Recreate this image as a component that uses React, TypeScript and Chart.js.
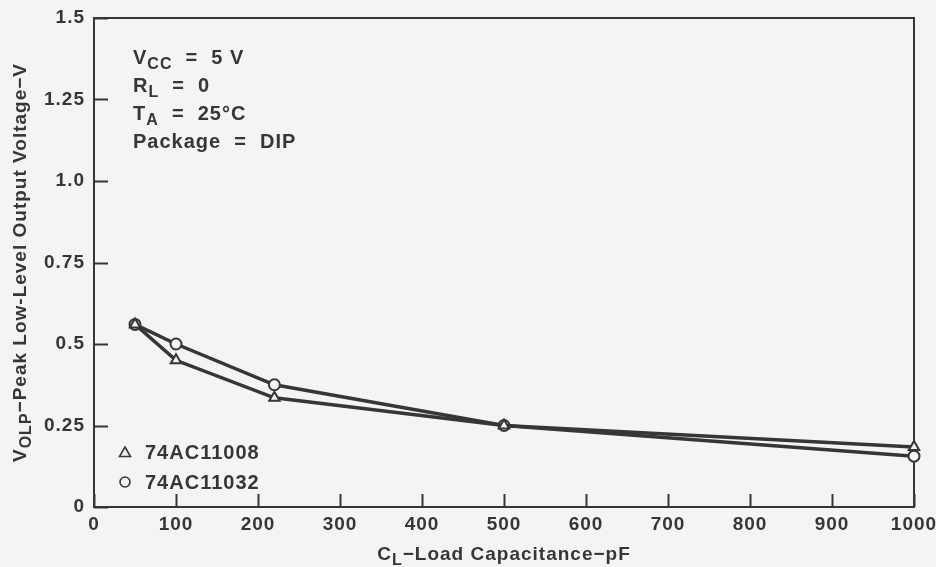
import React, { useEffect, useRef } from "react";
import { Chart, registerables } from "chart.js";

Chart.register(...registerables);

// ---- data ----
const capacitance = [50, 100, 220, 500, 1000];
const vOlp74AC11008 = [0.56, 0.45, 0.335, 0.25, 0.184];
const vOlp74AC11032 = [0.56, 0.5, 0.375, 0.25, 0.156];
const seriesNames = ["74AC11008", "74AC11032"];
const xTickValues = [0, 100, 200, 300, 400, 500, 600, 700, 800, 900, 1000];
const xTickLabels = ["0", "100", "200", "300", "400", "500", "600", "700", "800", "900", "1000"];
const yTickValues = [0, 0.25, 0.5, 0.75, 1.0, 1.25, 1.5];
const yTickLabels = ["0", "0.25", "0.5", "0.75", "1.0", "1.25", "1.5"];
const conditionLines = [
  [{ t: "V" }, { t: "CC", sub: true }, { t: "  =  5 V" }],
  [{ t: "R" }, { t: "L", sub: true }, { t: "  =  0" }],
  [{ t: "T" }, { t: "A", sub: true }, { t: "  =  25°C" }],
  [{ t: "Package  =  DIP" }],
];
const xTitle = [{ t: "C" }, { t: "L", sub: true }, { t: "−Load Capacitance−pF" }];
const yTitle = [{ t: "V" }, { t: "OLP", sub: true }, { t: "−Peak Low-Level Output Voltage−V" }];

const INK = "#363636";
const PAPER = "#f4f4f2";
const FONT = '"Liberation Sans", Arial, sans-serif';

type Part = { t: string; sub?: boolean };

function richWidth(ctx: CanvasRenderingContext2D, parts: Part[], size: number) {
  let w = 0;
  for (const p of parts) {
    ctx.font = `bold ${p.sub ? Math.round(size * 0.82) : size}px ${FONT}`;
    w += ctx.measureText(p.t).width;
  }
  return w;
}

function drawRich(
  ctx: CanvasRenderingContext2D,
  parts: Part[],
  x: number,
  y: number,
  size: number,
  align: "left" | "center"
) {
  ctx.textBaseline = "alphabetic";
  ctx.textAlign = "left";
  let cx = x;
  if (align === "center") cx = x - richWidth(ctx, parts, size) / 2;
  for (const p of parts) {
    ctx.font = `bold ${p.sub ? Math.round(size * 0.82) : size}px ${FONT}`;
    ctx.fillText(p.t, cx, p.sub ? y + 5 : y);
    cx += ctx.measureText(p.t).width;
  }
}

const decorPlugin = {
  id: "decor",
  beforeDraw(chart: any) {
    const ctx = chart.ctx as CanvasRenderingContext2D;
    ctx.save();
    ctx.fillStyle = PAPER;
    ctx.fillRect(0, 0, chart.width, chart.height);
    ctx.restore();
    (ctx as any).letterSpacing = "1px";
  },
  beforeDatasetsDraw(chart: any) {
    const ctx = chart.ctx as CanvasRenderingContext2D;
    const { left, right, top, bottom } = chart.chartArea;
    const xs = chart.scales.x;
    const ys = chart.scales.y;
    ctx.save();
    ctx.strokeStyle = INK;
    ctx.lineWidth = 2;
    ctx.beginPath();
    ctx.rect(left, top, right - left, bottom - top);
    ctx.stroke();
    ctx.beginPath();
    for (const v of xTickValues) {
      const px = Math.round(xs.getPixelForValue(v)) + 0.5;
      ctx.moveTo(px, bottom);
      ctx.lineTo(px, bottom - 13);
    }
    for (const v of yTickValues) {
      const py = Math.round(ys.getPixelForValue(v)) + 0.5;
      ctx.moveTo(left, py);
      ctx.lineTo(left + 14, py);
    }
    ctx.stroke();
    ctx.restore();
  },
  afterDraw(chart: any) {
    const ctx = chart.ctx as CanvasRenderingContext2D;
    const { left, right, top, bottom } = chart.chartArea;
    ctx.save();
    (ctx as any).letterSpacing = "1px";
    ctx.fillStyle = INK;
    // conditions
    conditionLines.forEach((line, i) => {
      drawRich(ctx, line, left + 39, 64 + i * 28, 20, "left");
    });
    // axis titles
    drawRich(ctx, xTitle, (left + right) / 2, 560, 19, "center");
    ctx.save();
    ctx.translate(26, (top + bottom) / 2);
    ctx.rotate(-Math.PI / 2);
    drawRich(ctx, yTitle, 0, 0, 19, "center");
    ctx.restore();
    // legend
    const legendY = [452, 482];
    ctx.strokeStyle = INK;
    ctx.lineWidth = 1.6;
    seriesNames.forEach((name, i) => {
      const cy = legendY[i];
      const cx = left + 31;
      ctx.beginPath();
      if (i === 0) {
        ctx.moveTo(cx, cy - 5);
        ctx.lineTo(cx + 5.5, cy + 4.5);
        ctx.lineTo(cx - 5.5, cy + 4.5);
        ctx.closePath();
      } else {
        ctx.arc(cx, cy, 5, 0, Math.PI * 2);
      }
      ctx.stroke();
      ctx.font = `bold 20px ${FONT}`;
      ctx.textBaseline = "middle";
      ctx.textAlign = "left";
      ctx.fillText(name, left + 51, cy + 1);
    });
    ctx.restore();
  },
};

export default function App() {
  const ref = useRef<HTMLCanvasElement | null>(null);
  useEffect(() => {
    if (!ref.current) return;
    const chart = new Chart(ref.current, {
      type: "line",
      data: {
        datasets: [
          {
            label: seriesNames[0],
            data: capacitance.map((x, i) => ({ x, y: vOlp74AC11008[i] })),
            borderColor: INK,
            borderWidth: 3.5,
            pointStyle: "triangle",
            pointRadius: 6,
            pointBorderWidth: 2,
            pointBackgroundColor: PAPER,
            pointBorderColor: INK,
            tension: 0,
            clip: false as any,
          },
          {
            label: seriesNames[1],
            data: capacitance.map((x, i) => ({ x, y: vOlp74AC11032[i] })),
            borderColor: INK,
            borderWidth: 3.5,
            pointStyle: "circle",
            pointRadius: 5.5,
            pointBorderWidth: 2,
            pointBackgroundColor: PAPER,
            pointBorderColor: INK,
            tension: 0,
            clip: false as any,
          },
        ],
      },
      options: {
        animation: false,
        responsive: false,
        devicePixelRatio: 1,
        layout: { padding: { left: 0, top: 18, right: 22, bottom: 0 } },
        plugins: { legend: { display: false }, tooltip: { enabled: false } },
        scales: {
          x: {
            type: "linear",
            min: 0,
            max: 1000,
            afterBuildTicks: (s: any) => {
              s.ticks = xTickValues.map((v) => ({ value: v }));
            },
            afterFit: (s: any) => {
              s.height = 60;
              s.paddingLeft = 0;
              s.paddingRight = 0;
            },
            grid: { display: false, drawTicks: false },
            border: { display: false },
            ticks: {
              color: INK,
              padding: 6,
              font: { family: FONT, size: 19, weight: "bold" },
              maxRotation: 0,
              autoSkip: false,
              callback: (v: any) => {
                const i = xTickValues.indexOf(Number(v));
                return i >= 0 ? xTickLabels[i] : "";
              },
            },
          },
          y: {
            type: "linear",
            min: 0,
            max: 1.5,
            afterBuildTicks: (s: any) => {
              s.ticks = yTickValues.map((v) => ({ value: v }));
            },
            afterFit: (s: any) => {
              s.width = 94;
              s.paddingTop = 0;
              s.paddingBottom = 0;
            },
            grid: { display: false, drawTicks: false },
            border: { display: false },
            ticks: {
              color: INK,
              padding: 9,
              font: { family: FONT, size: 19, weight: "bold" },
              autoSkip: false,
              callback: (v: any) => {
                const i = yTickValues.indexOf(Number(v));
                return i >= 0 ? yTickLabels[i] : "";
              },
            },
          },
        },
      },
      plugins: [decorPlugin],
    });
    return () => chart.destroy();
  }, []);
  return (
    <div style={{ position: "fixed", left: 0, top: 0, width: 936, height: 567, background: PAPER }}>
      <canvas ref={ref} width={936} height={567} style={{ display: "block", width: 936, height: 567 }} />
    </div>
  );
}
